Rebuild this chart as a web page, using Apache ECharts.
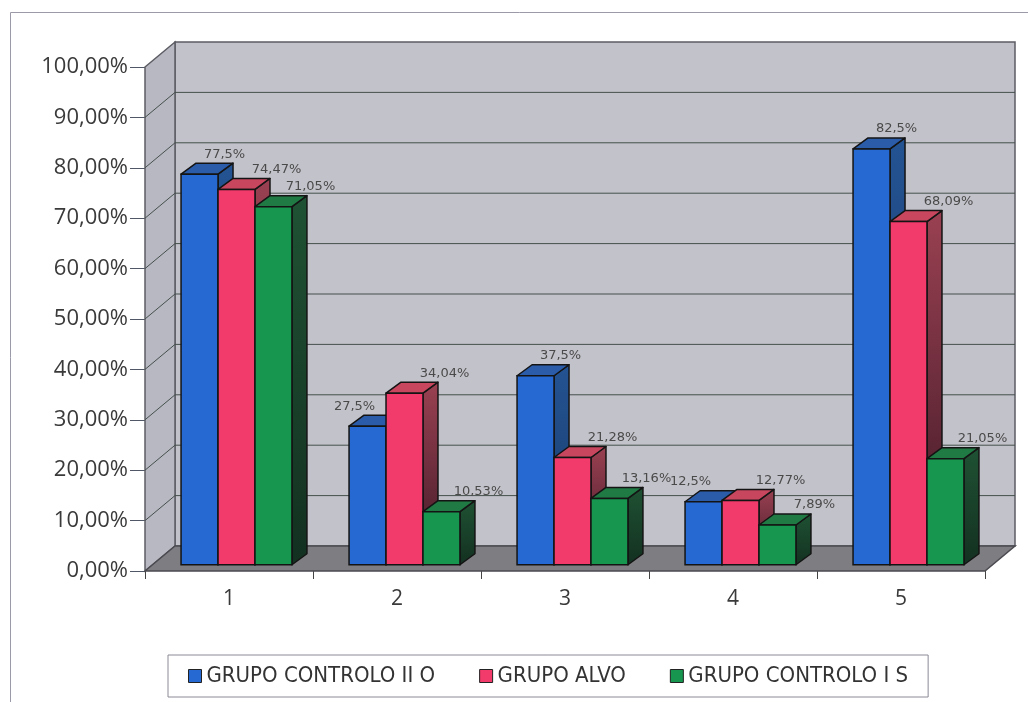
<!DOCTYPE html>
<html>
<head>
<meta charset="utf-8">
<title>Grupos</title>
<script src="https://cdn.jsdelivr.net/npm/echarts@6/dist/echarts.min.js"></script>
<style>
  html, body { margin: 0; padding: 0; background: #ffffff; }
  #chart { width: 1028px; height: 702px; }
</style>
</head>
<body>
<div id="chart"></div>
<script>
// ---- data ----
const categories = ['1', '2', '3', '4', '5'];
const seriesNames = ['GRUPO CONTROLO II O', 'GRUPO ALVO', 'GRUPO CONTROLO I S'];
const controloII = [77.5, 27.5, 37.5, 12.5, 82.5];
const alvo = [74.47, 34.04, 21.28, 12.77, 68.09];
const controloI = [71.05, 10.53, 13.16, 7.89, 21.05];
const yMin = 0, yMax = 100, yStep = 10;

const seriesValues = [controloII, alvo, controloI];

// ---- look ----
const DEPTH = [30, -25];                 // wall/floor depth offset (px)
const BAR_PLANE = [DEPTH[0] * 0.25, DEPTH[1] * 0.25]; // front plane of the bars
const BAR_DEPTH = [15, -11];             // bar depth offset (px)
const BAR_FRACTION = 0.22;               // bar width as share of a category band
const palette = [
  { front: '#2769d2', top: '#2a5caa', sideTop: '#245393', sideBot: '#183a66' },
  { front: '#f23a6b', top: '#c9465f', sideTop: '#9a4152', sideBot: '#3e1826' },
  { front: '#16964f', top: '#1f7a44', sideTop: '#1f5234', sideBot: '#133020' }
];
const LABEL_DX = [25, 40, 37];
const OUTLINE = '#141414';

const fmtPct = v => String(v).replace('.', ',') + '%';
const fmtTick = v => v.toFixed(2).replace('.', ',') + '%';

// walls, floor and gridlines, projected from the axis scales
function renderWalls(params, api) {
  const band = api.size([1, 0])[0];
  const xl = api.coord([0, 0])[0] - band / 2;
  const xr = api.coord([categories.length - 1, 0])[0] + band / 2;
  const y0 = api.coord([0, yMin])[1];
  const y1 = api.coord([0, yMax])[1];
  const dx = DEPTH[0], dy = DEPTH[1];
  const kids = [];
  // back wall
  kids.push({ type: 'polygon', shape: { points: [[xl + dx, y1 + dy], [xr + dx, y1 + dy], [xr + dx, y0 + dy], [xl + dx, y0 + dy]] },
    style: { fill: '#c2c2ca', stroke: '#5c5c64', lineWidth: 1.5 } });
  // left wall
  kids.push({ type: 'polygon', shape: { points: [[xl, y1], [xl + dx, y1 + dy], [xl + dx, y0 + dy], [xl, y0]] },
    style: { fill: '#b8b8c2', stroke: '#5c5c64', lineWidth: 1.5 } });
  // gridlines
  for (let v = yMin + yStep; v < yMax; v += yStep) {
    const y = api.coord([0, v])[1];
    kids.push({ type: 'polyline', shape: { points: [[xl, y], [xl + dx, y + dy], [xr + dx, y + dy]] },
      style: { fill: null, stroke: '#45504c', lineWidth: 1 } });
  }
  // floor
  kids.push({ type: 'polygon', shape: { points: [[xl, y0], [xl + dx, y0 + dy], [xr + dx, y0 + dy], [xr, y0]] },
    style: { fill: '#7e7e82', stroke: '#4a4a50', lineWidth: 1.5 } });
  return { type: 'group', children: kids };
}

function makeBarRenderer(s) {
  return function (params, api) {
    const cat = api.value(0);
    const val = api.value(1);
    const band = api.size([1, 0])[0];
    const cx = api.coord([cat, 0])[0];
    const w = band * BAR_FRACTION;
    const x0 = cx - 1.5 * w + s * w + BAR_PLANE[0];
    const x1 = x0 + w;
    const yT = api.coord([cat, val])[1] + BAR_PLANE[1];
    const yB = api.coord([cat, 0])[1] + BAR_PLANE[1];
    const bx = BAR_DEPTH[0], by = BAR_DEPTH[1];
    const c = palette[s];
    const z = s * 10;
    const next = seriesValues[s + 1] ? seriesValues[s + 1][cat] : undefined;
    const ldx = (next !== undefined && next >= val) ? -13 : LABEL_DX[s];
    return {
      type: 'group',
      children: [
        { type: 'polygon', z2: z + 1,
          shape: { points: [[x1, yT], [x1 + bx, yT + by], [x1 + bx, yB + by], [x1, yB]] },
          style: { fill: new echarts.graphic.LinearGradient(0, 0, 0, 1, [
              { offset: 0, color: c.sideTop }, { offset: 1, color: c.sideBot }]),
            stroke: OUTLINE, lineWidth: 1.5, lineJoin: 'round' } },
        { type: 'polygon', z2: z + 2,
          shape: { points: [[x0, yT], [x0 + bx, yT + by], [x1 + bx, yT + by], [x1, yT]] },
          style: { fill: c.top, stroke: OUTLINE, lineWidth: 1.5, lineJoin: 'round' } },
        { type: 'rect', z2: z + 3,
          shape: { x: x0, y: yT, width: w, height: yB - yT },
          style: { fill: c.front, stroke: OUTLINE, lineWidth: 1.5 } },
        { type: 'text', z2: 100,
          x: (x0 + x1) / 2 + ldx, y: yT - 20,
          style: { text: fmtPct(val), fill: '#4a4a4a', fontSize: 13, fontFamily: 'DejaVu Sans',
            align: 'center', verticalAlign: 'middle' } }
      ]
    };
  };
}

const chart = echarts.init(document.getElementById('chart'), null, { renderer: 'canvas' });

const series = [{
  type: 'custom', name: '__walls', z: 1, silent: true,
  renderItem: renderWalls, data: [[0, 0]], legendHoverLink: false
}];
seriesValues.forEach((vals, s) => {
  series.push({
    type: 'custom', name: seriesNames[s], z: 2,
    itemStyle: { color: palette[s].front },
    renderItem: makeBarRenderer(s),
    encode: { x: 0, y: 1 },
    data: vals.map((v, i) => [i, v])
  });
});

chart.setOption({
  animation: false,
  backgroundColor: '#ffffff',
  graphic: [{
    type: 'rect', left: 8, top: 10, z: -10, silent: true,
    shape: { width: 1040, height: 700 },
    style: { fill: 'none', stroke: '#9a9aa8', lineWidth: 1 }
  }],
  grid: { left: 145, right: 43, top: 67, bottom: 131, containLabel: false },
  xAxis: {
    type: 'category', data: categories,
    axisLine: { show: false },
    axisTick: { show: true, length: 8, lineStyle: { color: '#444', width: 1 } },
    axisLabel: { margin: 18, fontSize: 21, color: '#3a3a3a', fontFamily: 'Open Sans' },
    splitLine: { show: false }
  },
  yAxis: {
    type: 'value', min: yMin, max: yMax, interval: yStep,
    axisLine: { show: false },
    axisTick: { show: true, length: 15, lineStyle: { color: '#505868', width: 1 } },
    axisLabel: { margin: 17, fontSize: 22, color: '#3a3a3a', fontFamily: 'Open Sans', formatter: fmtTick },
    splitLine: { show: false }
  },
  legend: {
    data: seriesNames,
    left: 168, top: 655,
    padding: [10, 20, 10, 20],
    itemGap: 44,
    itemWidth: 13, itemHeight: 13,
    icon: 'rect',
    itemStyle: { borderColor: '#222', borderWidth: 1 },
    backgroundColor: '#ffffff',
    borderColor: '#8a8a96', borderWidth: 1,
    textStyle: { fontSize: 22, color: '#333', fontFamily: '"DejaVu Sans Condensed", "DejaVu Sans"', padding: [0, 0, 0, 0] }
  },
  tooltip: { show: false },
  series: series
});
</script>
</body>
</html>
